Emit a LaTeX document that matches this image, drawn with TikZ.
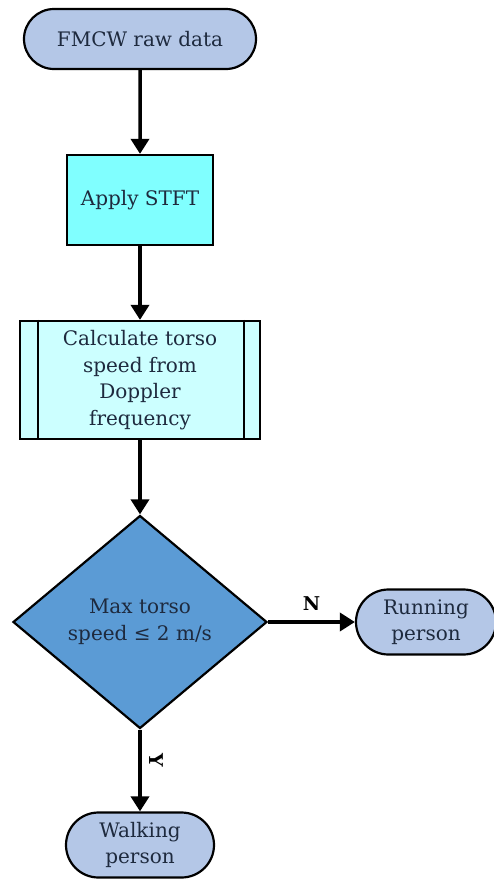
\documentclass[tikz,border=0pt]{standalone}
\usepackage{fontspec}
\setmainfont{DejaVu Serif}
\usetikzlibrary{arrows.meta,shapes.geometric,shapes.misc,calc}
\definecolor{termfill}{HTML}{B4C7E7}
\definecolor{procfill}{HTML}{80FFFF}
\definecolor{predfill}{HTML}{CCFFFF}
\definecolor{decfill}{HTML}{5B9BD5}
\definecolor{txt}{HTML}{1E2A3E}
\tikzset{
  base/.style={draw=black, line width=2.2pt, text=txt, font=\fontsize{20}{26.5}\selectfont, align=center, inner sep=0pt},
  term/.style={base, rounded rectangle, fill=termfill},
  procbox/.style={base, rectangle, fill=procfill},
  predbox/.style={base, rectangle, fill=predfill},
  decbox/.style={base, diamond, fill=decfill, aspect=1.19},
  conn/.style={line width=3.5pt, -{Triangle[width=18pt,length=15pt]}},
  lbl/.style={font=\bfseries\fontsize{19}{21}\selectfont, text=black}
}
\begin{document}
\begin{tikzpicture}[x=1pt,y=-1pt]
\useasboundingbox (0,0) rectangle (494,879);
\node[term, minimum width=232pt, minimum height=60pt] (start) at (140,39) {FMCW raw data};
\node[procbox, minimum width=146pt, minimum height=90pt] (stft) at (140,200) {Apply STFT};
\node[predbox, minimum width=240pt, minimum height=118pt] (calc) at (140,380) {Calculate torso\\speed from\\Doppler\\frequency};
\draw[line width=2.2pt] ($(calc.north west)+(19pt,0)$) -- ($(calc.south west)+(19pt,0)$);
\draw[line width=2.2pt] ($(calc.north east)+(-17pt,0)$) -- ($(calc.south east)+(-17pt,0)$);
\node[decbox, minimum width=254pt, minimum height=213pt] (dec) at (140,622) {Max torso\\speed ≤ 2 m/s};
\node[term, minimum width=140pt, minimum height=65pt] (run) at (426,622) {Running\\person};
\node[term, minimum width=148pt, minimum height=65pt] (walk) at (140,845) {Walking\\person};
\draw[conn] (start) -- (stft);
\draw[conn] (stft) -- (calc);
\draw[conn] (calc) -- (dec);
\draw[conn] (dec.east) -- (run.west) node[lbl, midway, above=6pt] {N};
\draw[conn] (dec.south) -- (walk.north) node[lbl, pos=0.38, right=4pt, rotate=-90, anchor=south] {Y};
\end{tikzpicture}
\end{document}
